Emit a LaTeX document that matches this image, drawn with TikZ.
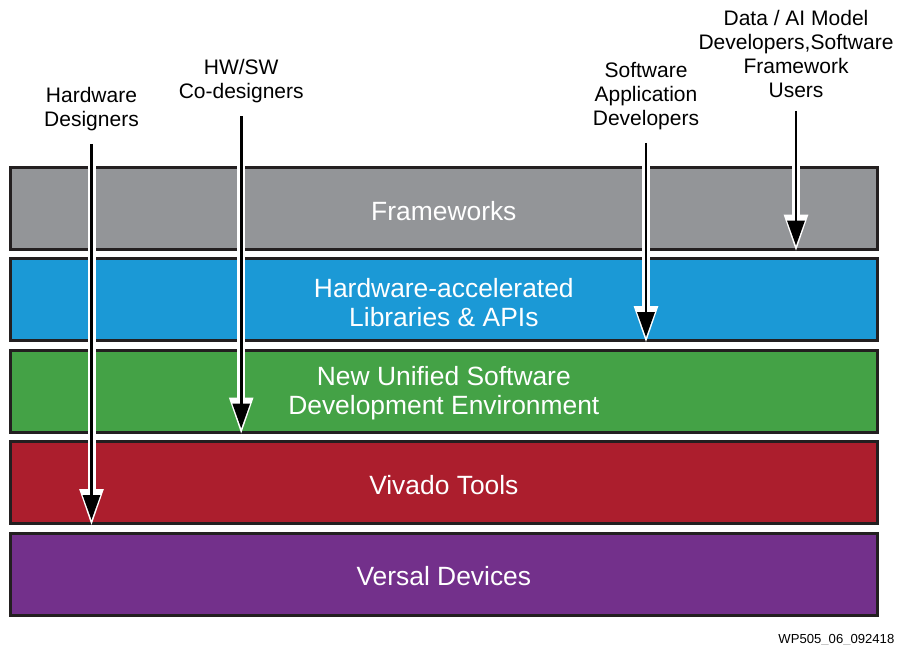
\documentclass[tikz,border=0pt]{standalone}
\usepackage{fontspec}
\setmainfont{Liberation Sans}
\usetikzlibrary{arrows.meta}
\definecolor{edge}{HTML}{231F20}
\definecolor{fwgray}{HTML}{939598}
\definecolor{libblue}{HTML}{1B99D6}
\definecolor{envgreen}{HTML}{44A246}
\definecolor{vivred}{HTML}{AC1E2D}
\definecolor{devpurple}{HTML}{73308B}
\tikzset{
    layer/.style = {
        draw = edge,
        line width = 3pt,
        minimum width = 866.7pt,
        minimum height = 82pt,
        },
    caption/.style = {
        text = white,
        align = center,
        yshift = -2.5pt,
        font = \fontsize{26.4}{29}\selectfont,
        },
    user/.style = {
        inner sep = 0pt,
        anchor = north,
        align = center,
        font = \fontsize{21}{24}\selectfont,
        },
    halo/.style = {
        draw = white,
        line width = 8pt,
        -{Triangle[length=38pt,width=22pt]},
        shorten <= 11pt,
        shorten >= -2pt,
        },
    flow/.style = {
        draw = black,
        line width = 2.7pt,
        -{Triangle[length=25pt,width=17pt]},
        shorten <= 13pt,
        shorten >= 5pt,
        },
}
\begin{document}
\begin{tikzpicture}[x=1pt, y=-1pt]
    \useasboundingbox (0,0) rectangle (897,645);

    % layers
    \node[layer, fill=fwgray]    (fw)  at (443.85,208.2) {};
    \node[layer, fill=libblue]   (lib) at (443.85,299.7) {};
    \node[layer, fill=envgreen]  (env) at (443.85,391)   {};
    \node[layer, fill=vivred]    (viv) at (443.85,482.5) {};
    \node[layer, fill=devpurple] (dev) at (443.85,574)   {};
    \node[caption] (fwt)  at (fw.center)  {Frameworks};
    \node[caption] (libt) at (lib.center) {Hardware-accelerated\\Libraries \& APIs};
    \node[caption] (envt) at (env.center) {New Unified Software\\Development Environment};
    \node[caption] (vivt) at (viv.center) {Vivado Tools};
    \node[caption] (devt) at (dev.center) {Versal Devices};

    % users
    \node[user] (hwd) at (91.5,87)  {Hardware\\Designers};
    \node[user] (hws) at (241.2,59.5) {HW/SW\\Co-designers};
    \node[user] (sad) at (646,62)   {Software\\Application\\Developers};
    \node[user] (aid) at (796,10)   {Data / AI Model\\Developers,Software\\Framework\\Users};

    % entry arrows
    \draw[halo] (hwd.south) -- (hwd.south |- viv.south);
    \draw[halo] (hws.south) -- (hws.south |- env.south);
    \draw[halo] (sad.south) -- (sad.south |- lib.south);
    \draw[halo] (aid.south) -- (aid.south |- fw.south);
    \draw[flow] (hwd.south) -- (hwd.south |- viv.south);
    \draw[flow] (hws.south) -- (hws.south |- env.south);
    \draw[flow] (sad.south) -- (sad.south |- lib.south);
    \draw[flow] (aid.south) -- (aid.south |- fw.south);

    \node[anchor=base east, inner sep=0pt, font=\fontsize{13.1}{15}\selectfont] (tag) at (894.5,643.5) {WP505\_06\_092418};
\end{tikzpicture}
\end{document}
